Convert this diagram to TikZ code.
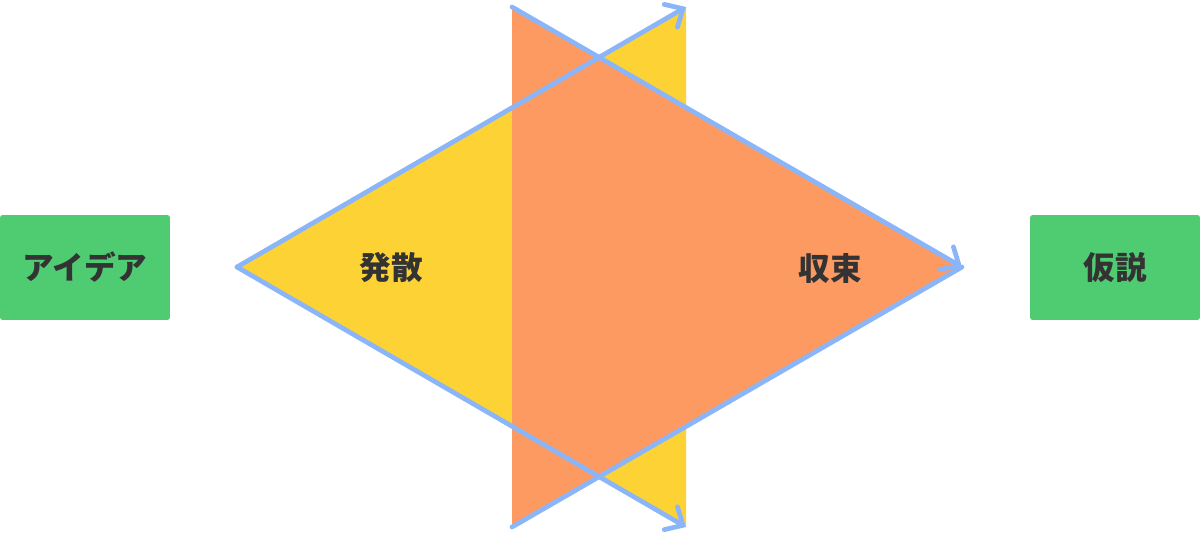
\documentclass[tikz,border=0pt]{standalone}
\usepackage{fontspec}
\newfontfamily\jpfont{Noto Sans CJK JP}
\usepackage{tikz}
\usetikzlibrary{arrows.meta}
\definecolor{boxgreen}{HTML}{4FCC72}
\definecolor{fillyellow}{HTML}{FDD235}
\definecolor{fillorange}{HTML}{FD9A61}
\definecolor{lineblue}{HTML}{8AB6F9}
\definecolor{textgray}{HTML}{333333}
\begin{document}
\begin{tikzpicture}[x=0.02cm,y=-0.02cm,
	box/.style={fill=boxgreen,rounded corners=1.5pt,minimum width=3.4cm,minimum height=2.1cm,inner sep=0pt,text=textgray,font=\jpfont\bfseries\fontsize{18}{21}\selectfont},
	label/.style={text=textgray,font=\jpfont\bfseries\fontsize{18}{21}\selectfont},
	flow/.style={draw=lineblue,line width=2.7pt,line cap=round,line join=round},
	tip/.style={-{Straight Barb[length=8pt,width=15pt,line cap=round]}}]
	\useasboundingbox (0,0) rectangle (1200,535);
	\coordinate (Y0) at (237,267);
	\coordinate (Y1) at (686,7);
	\coordinate (Y2) at (686,527);
	\coordinate (O0) at (962,267);
	\coordinate (O1) at (512,7);
	\coordinate (O2) at (512,527);
	\fill [fillyellow] (Y0) -- (Y1) -- (Y2) -- cycle;
	\fill [fillorange] (O1) -- (O0) -- (O2) -- cycle;
	\node [box] (idea) at (85,267.5) {アイデア};
	\node [box] (hyp) at (1115,267.5) {仮説};
	\node [label] (div) at (391,268) {発散};
	\node [label] (conv) at (830,268) {収束};
	\draw [flow,tip] (Y0) -- (Y1);
	\draw [flow,tip] (Y0) -- (Y2);
	\draw [flow] (O2) -- (O0);
	\draw [flow,tip] (O1) -- (O0);
\end{tikzpicture}
\end{document}
